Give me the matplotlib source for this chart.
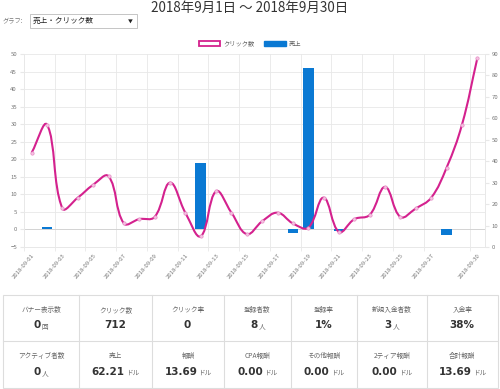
import numpy as np
import matplotlib
matplotlib.use("Agg")
import matplotlib.pyplot as plt
from matplotlib.path import Path
from matplotlib.patches import PathPatch, Patch, Rectangle

plt.rcParams['font.family'] = ['Noto Sans CJK JP', 'DejaVu Sans']

# ---- data ----
dates = ["2018-09-%02d" % d for d in range(1, 31)]
clicks = [44, 57, 18, 23, 29, 33, 11, 13, 14, 30, 16, 5, 26, 16, 6,
          12, 16, 11, 9, 23, 7, 13, 15, 28, 14, 18, 23, 37, 57, 88]
sales = [0, 0.62, 0.05, 0.05, 0, 0, 0, 0, 0, 0, 0, 18.8, 0, 0, 0,
         0, 0, -1.15, 45.9, 0, -0.45, 0, 0, 0, 0, 0, 0, -1.61, 0, 0]
shown_ticks = [0, 2, 4, 6, 8, 10, 12, 14, 16, 18, 20, 22, 24, 26, 29]

title = "2018年9月1日 ～ 2018年9月30日"
row1_labels = ["バナー表示数", "クリック数", "クリック率", "登録者数", "登録率", "新規入金者数", "入金率"]
row1_values = ["0", "712", "0", "8", "1%", "3", "38%"]
row1_units = ["回", "", "", "人", "", "人", ""]
row2_labels = ["アクティブ者数", "売上", "報酬", "CPA報酬", "その他報酬", "2ティア報酬", "合計報酬"]
row2_values = ["0", "62.21", "13.69", "0.00", "0.00", "0.00", "13.69"]
row2_units = ["人", "ドル", "ドル", "ドル", "ドル", "ドル", "ドル"]

pink = '#d4218e'
blue = '#0a79d3'
grid_c = '#e8e8e8'
tick_c = '#777777'

W, H = 500, 389
fig = plt.figure(figsize=(5, 3.89), dpi=100)

# background axes in pixel coords for title / dropdown / table
bg = fig.add_axes([0, 0, 1, 1])
bg.set_xlim(0, W)
bg.set_ylim(H, 0)
bg.axis('off')

bg.text(250, 7.5, title, ha='center', va='center', fontsize=9.7, color='#333333')
bg.text(3, 21, "グラフ:", ha='left', va='center', fontsize=4.5, color='#777777')
bg.add_patch(Rectangle((30, 14), 107, 13.5, facecolor='white', edgecolor='#bbbbbb', lw=0.6))
bg.text(33, 21, "売上・クリック数", ha='left', va='center', fontsize=5.5, color='#222222')
bg.text(130, 21.5, "▼", ha='center', va='center', fontsize=3.5, color='#222222')

# ---- chart ----
left, right, top, bottom = 24, 485, 54, 247
ax = fig.add_axes([left / W, 1 - bottom / H, (right - left) / W, (bottom - top) / H])
ax2 = ax.twinx()

x = np.arange(len(dates))
ax.bar(x, sales, width=0.7, color=blue, zorder=2)
ax.set_xlim(-0.5, len(dates) - 0.5)
ax.set_ylim(-5, 50)
ax.set_yticks(np.arange(-5, 51, 5))
ax2.set_ylim(0, 90)
ax2.set_yticks(np.arange(0, 91, 10))

ax.set_xticks(shown_ticks)
ax.set_xticklabels([dates[i] for i in shown_ticks], rotation=50, ha='right',
                   rotation_mode='anchor', fontsize=4.3, color=tick_c)
ax.set_xticks([i - 0.5 for i in shown_ticks], minor=True)
ax.tick_params(axis='x', which='major', length=0, pad=4)
ax.tick_params(axis='x', which='minor', length=3, color=grid_c)
ax.tick_params(axis='y', length=3, color=grid_c, labelsize=4.3, labelcolor=tick_c, pad=2)
ax2.tick_params(axis='y', length=3, color=grid_c, labelsize=4.3, labelcolor=tick_c, pad=2)
ax.grid(axis='x', which='minor', color=grid_c, lw=0.6)
ax.grid(axis='y', color=grid_c, lw=0.6)
ax.axhline(0, color='#d0d0d0', lw=0.6, zorder=1)
ax.set_axisbelow(True)
for a in (ax, ax2):
    for s in a.spines.values():
        s.set_color(grid_c)
        s.set_linewidth(0.6)
    a.spines['top'].set_visible(False)

# smooth line like Chart.js (tension 0.4), control points computed in display space
pts = ax2.transData.transform(np.column_stack([x, clicks]))
t = 0.4
verts = [pts[0]]
codes = [Path.MOVETO]
cps = []
for i in range(len(pts)):
    prev = pts[i - 1] if i > 0 else pts[i]
    nxt = pts[i + 1] if i < len(pts) - 1 else pts[i]
    cur = pts[i]
    d01 = np.hypot(*(cur - prev))
    d12 = np.hypot(*(nxt - cur))
    tot = d01 + d12 if d01 + d12 > 0 else 1
    fa = t * d01 / tot
    fb = t * d12 / tot
    cps.append((cur - fa * (nxt - prev), cur + fb * (nxt - prev)))
for i in range(1, len(pts)):
    verts += [cps[i - 1][1], cps[i][0], pts[i]]
    codes += [Path.CURVE4] * 3
verts = ax2.transData.inverted().transform(np.array(verts))
ax2.add_patch(PathPatch(Path(verts, codes), facecolor='none', edgecolor=pink, lw=1.5, zorder=3))
ax2.plot(x, clicks, 'o', ms=2.4, mfc='#f5c3e1', mec='#e58bc4', mew=0.5, zorder=4)

fig.legend(handles=[Patch(facecolor='white', edgecolor=pink, lw=1.3, label='クリック数'),
                    Patch(facecolor=blue, edgecolor=blue, label='売上')],
           loc='center', bbox_to_anchor=(0.5, 1 - 43.5 / H), ncol=2, frameon=False,
           fontsize=4.5, handlelength=3.4, handleheight=0.8, columnspacing=1.6,
           handletextpad=0.5, labelcolor='#666666')

# ---- table ----
cols = [3, 79, 152, 224, 291, 357, 427, 498]
rows = [295, 341, 388]
bg.add_patch(Rectangle((cols[0], rows[0]), cols[-1] - cols[0], rows[-1] - rows[0],
                       facecolor='none', edgecolor='#dddddd', lw=0.8))
for c in cols[1:-1]:
    bg.plot([c, c], [rows[0], rows[-1]], color='#dddddd', lw=0.8)
bg.plot([cols[0], cols[-1]], [rows[1], rows[1]], color='#dddddd', lw=0.8)

fig.canvas.draw()
renderer = fig.canvas.get_renderer()


def cell(cx, ly, vy, label, value, unit):
    bg.text(cx, ly, label, ha='center', va='center', fontsize=4.8, color='#666666')
    tv = bg.text(0, vy, value, ha='left', va='baseline', fontsize=7.5,
                 fontweight='bold', color='#333333', family=['DejaVu Sans'])
    tu = bg.text(0, vy, unit, ha='left', va='baseline', fontsize=4.8, color='#666666')
    wv = tv.get_window_extent(renderer).width
    wu = tu.get_window_extent(renderer).width if unit else 0
    start = cx - (wv + wu + 1) / 2
    tv.set_x(start)
    tu.set_x(start + wv + 1)


for j in range(7):
    cx = (cols[j] + cols[j + 1]) / 2
    cell(cx, 310, 328.5, row1_labels[j], row1_values[j], row1_units[j])
    cell(cx, 356, 375, row2_labels[j], row2_values[j], row2_units[j])

fig.savefig("out.png", dpi=100)
